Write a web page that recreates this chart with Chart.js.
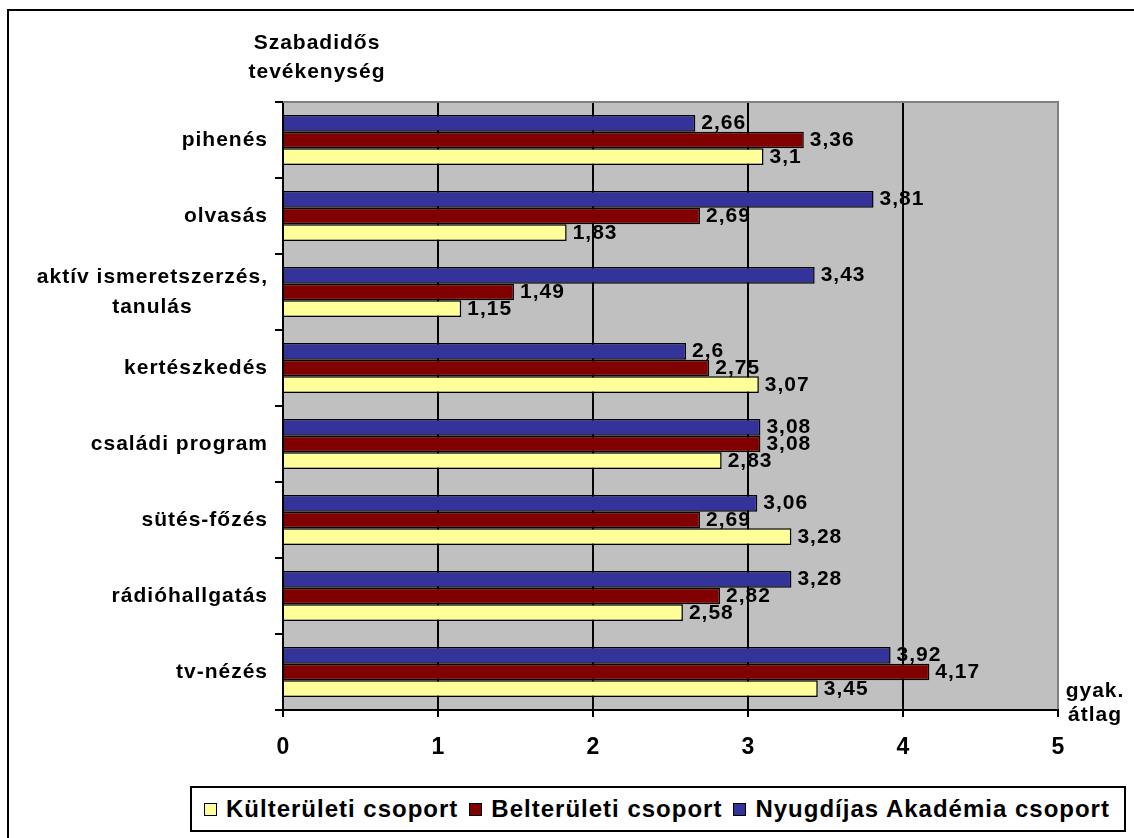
<!DOCTYPE html>
<html>
<head>
<meta charset="utf-8">
<script src="https://cdn.jsdelivr.net/npm/chart.js@4.4.1/dist/chart.umd.min.js"></script>
<style>
    body { margin: 0; background: #fff; overflow: hidden; width: 1134px; height: 838px; position: relative; font-family: "Liberation Sans", Arial, sans-serif; }
    #frame { position: absolute; left: 7px; top: 9px; width: 1200px; height: 900px; border: 2px solid #000; }
    #chart { position: absolute; left: 0; top: 0; }
    #legend { position: absolute; left: 190px; top: 786px; width: 920px; height: 42px; padding-left: 12px; border: 2px solid #000; background: #fff; display: flex; align-items: center; }
    .item { display: flex; align-items: center; margin-right: 11px; font-weight: bold; font-size: 24px; letter-spacing: 1px; color: #000; white-space: nowrap; }
    .sw { width: 11px; height: 11px; border: 1px solid #000; margin-right: 9px; }
</style>
</head>
<body>
<div id="frame"></div>
<canvas id="chart" width="1134" height="838"></canvas>
<div id="legend"></div>
<script>
// adatok (felülről lefelé)
const categories = ['pihenés', 'olvasás', ['aktív ismeretszerzés,', 'tanulás'], 'kertészkedés', 'családi program', 'sütés-főzés', 'rádióhallgatás', 'tv-nézés'];
const nyugdijas = [2.66, 3.81, 3.43, 2.6, 3.08, 3.06, 3.28, 3.92];
const belteruleti = [3.36, 2.69, 1.49, 2.75, 3.08, 2.69, 2.82, 4.17];
const kulteruleti = [3.1, 1.83, 1.15, 3.07, 2.83, 3.28, 2.58, 3.45];
const seriesNames = ['Külterületi csoport', 'Belterületi csoport', 'Nyugdíjas Akadémia csoport'];
const seriesColors = ['#FFFF99', '#800000', '#333399'];
const xTicks = [0, 1, 2, 3, 4, 5];
const yTitle = ['Szabadidős', 'tevékenység'];
const xTitle = ['gyak.', 'átlag'];

const FONT = '"Liberation Sans", Arial, sans-serif';

// szürke háttér + felső keret
const plotBg = {
    id: 'plotBg',
    beforeDraw(chart) {
        const a = chart.chartArea, c = chart.ctx;
        c.save();
        c.fillStyle = '#C0C0C0';
        c.fillRect(a.left, a.top, a.right - a.left, a.bottom - a.top);
        c.restore();
    },
    beforeDatasetsDraw(chart) {
        const a = chart.chartArea, c = chart.ctx;
        c.save();
        c.strokeStyle = '#808080';
        c.lineWidth = 2;
        c.beginPath();
        c.moveTo(a.left, a.top);
        c.lineTo(a.right + 1, a.top);
        c.stroke();
        c.restore();
    }
};

// értékcímkék a sávok végén
const valueLabels = {
    id: 'valueLabels',
    afterDatasetsDraw(chart) {
        const c = chart.ctx;
        c.save();
        c.font = 'bold 21px ' + FONT;
        c.letterSpacing = '1px';
        c.fillStyle = '#000';
        c.textAlign = 'left';
        c.textBaseline = 'middle';
        chart.data.datasets.forEach((ds, i) => {
            chart.getDatasetMeta(i).data.forEach((bar, j) => {
                c.fillText(String(ds.data[j]).replace('.', ','), bar.x + 6, bar.y);
            });
        });
        c.restore();
    }
};

// kategória feliratok + tengelycímek
const axisTexts = {
    id: 'axisTexts',
    afterDraw(chart) {
        const c = chart.ctx, y = chart.scales.y, x = chart.scales.x;
        c.save();
        c.font = 'bold 21px ' + FONT;
        c.letterSpacing = '1px';
        c.fillStyle = '#000';
        c.textBaseline = 'middle';
        const right = y.right - 15;
        categories.forEach((lab, i) => {
            const yc = y.getPixelForValue(i);
            if (Array.isArray(lab)) {
                const w = Math.max(...lab.map(t => c.measureText(t).width));
                c.textAlign = 'center';
                lab.forEach((t, k) => c.fillText(t, right - w / 2, yc + (k - (lab.length - 1) / 2) * 30));
            } else {
                c.textAlign = 'right';
                c.fillText(lab, right, yc);
            }
        });
        c.textAlign = 'center';
        c.fillText(yTitle[0], 317, 43);
        c.fillText(yTitle[1], 317, 72);
        c.fillText(xTitle[0], x.right + 37, x.top - 19);
        c.fillText(xTitle[1], x.right + 37, x.top + 5);
        c.restore();
    }
};

new Chart(document.getElementById('chart'), {
    type: 'bar',
    data: {
        labels: categories,
        datasets: [
            { label: seriesNames[2], data: nyugdijas, backgroundColor: seriesColors[2] },
            { label: seriesNames[1], data: belteruleti, backgroundColor: seriesColors[1] },
            { label: seriesNames[0], data: kulteruleti, backgroundColor: seriesColors[0] }
        ].map(d => Object.assign(d, { borderColor: '#000', borderWidth: 1.5, categoryPercentage: 0.66, barPercentage: 1 }))
    },
    options: {
        indexAxis: 'y',
        responsive: false,
        animation: false,
        layout: { padding: { top: 102, right: 76, left: 0, bottom: 0 } },
        plugins: { legend: { display: false }, tooltip: { enabled: false } },
        scales: {
            x: {
                min: xTicks[0],
                max: xTicks[xTicks.length - 1],
                afterBuildTicks: s => { s.ticks = xTicks.map(v => ({ value: v })); },
                ticks: { color: '#000', padding: 17, font: { family: FONT, size: 23, weight: 'bold' } },
                grid: {
                    color: ctx => (ctx.tick && ctx.tick.value === 5) ? '#808080' : '#000',
                    lineWidth: 2,
                    tickLength: 7,
                    tickColor: '#000'
                },
                border: { color: '#000', width: 2 },
                afterFit: s => { s.height = 128; }
            },
            y: {
                ticks: { display: false },
                grid: { drawOnChartArea: false, offset: true, tickLength: 8, color: '#000', lineWidth: 2 },
                border: { color: '#000', width: 2 },
                afterFit: s => { s.width = 283; }
            }
        }
    },
    plugins: [plotBg, valueLabels, axisTexts]
});

// jelmagyarázat
const legend = document.getElementById('legend');
seriesNames.forEach((name, i) => {
    const it = document.createElement('div');
    it.className = 'item';
    it.innerHTML = `<span class="sw" style="background:${seriesColors[i]}"></span>${name}`;
    legend.appendChild(it);
});
</script>
</body>
</html>
